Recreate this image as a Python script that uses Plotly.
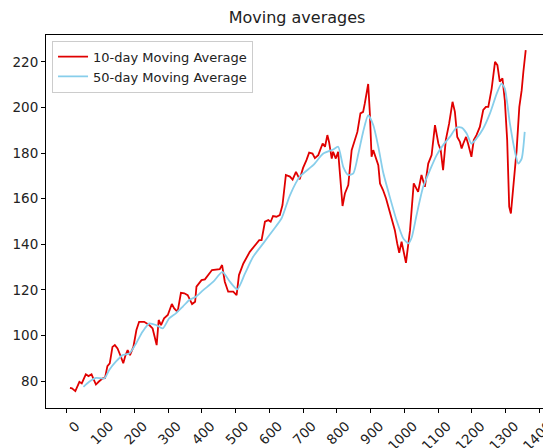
import plotly.graph_objects as go

# 10-day moving average
ma10_x = [9, 15, 25, 37, 44, 56, 64, 73, 78, 86, 94, 106, 113, 120, 127, 135, 142, 150,
          160, 167, 173, 180, 187, 197, 206, 214, 229, 244, 254, 262, 266, 272, 279, 288,
          299, 311, 318, 328, 338, 348, 358, 371, 380, 384, 399, 409, 419, 430, 453, 460,
          468, 478, 493, 503, 510, 523, 542, 557, 570, 577, 587, 597, 604, 611, 621, 631,
          639, 649, 661, 669, 679, 690, 700, 710, 718, 728, 735, 745, 758, 765, 772, 777,
          785, 789, 797, 804, 811, 817, 824, 834, 844, 854, 861, 870, 878, 883, 893, 898,
          903, 908, 916, 923, 928, 937, 946, 955, 965, 972, 979, 985, 992, 999, 1005, 1017,
          1028, 1041, 1051, 1061, 1071, 1081, 1091, 1101, 1108, 1115, 1123, 1133, 1143, 1150,
          1157, 1165, 1170, 1175, 1183, 1189, 1199, 1206, 1214, 1224, 1234, 1242, 1249, 1259,
          1269, 1276, 1283, 1291, 1298, 1305, 1311, 1316, 1323, 1333, 1341, 1348, 1353, 1360]
ma10_y = [77.0, 76.8, 75.6, 79.7, 79.0, 83.0, 82.2, 83.0, 81.2, 78.5, 79.7, 81.2, 81.4, 86.6,
          87.8, 95.0, 95.8, 94.3, 90.7, 87.8, 91.0, 93.6, 91.4, 95.0, 102.4, 106.0, 106.0,
          104.6, 103.1, 97.2, 95.8, 106.8, 104.6, 107.5, 109.0, 113.8, 111.9, 110.4, 118.7,
          118.5, 117.7, 113.8, 114.8, 121.4, 124.3, 124.6, 126.5, 128.7, 129.1, 130.9, 123.6,
          119.2, 119.2, 117.7, 126.5, 131.6, 136.7, 139.6, 141.8, 141.8, 149.9, 150.6, 149.9,
          152.4, 152.1, 152.8, 157.2, 170.4, 169.7, 168.4, 171.8, 168.5, 173.5, 176.9, 180.2,
          179.8, 177.8, 179.1, 184.2, 182.8, 187.9, 184.9, 177.6, 180.6, 177.6, 180.6, 168.2,
          156.8, 162.3, 166.0, 181.3, 185.7, 189.3, 197.4, 198.1, 201.8, 210.3, 197.4, 178.4,
          181.3, 177.6, 174.7, 166.7, 163.8, 160.1, 155.0, 150.6, 146.2, 140.4, 136.3, 141.1,
          136.3, 131.9, 146.2, 166.7, 163.0, 170.4, 165.2, 175.4, 179.1, 192.3, 184.2, 181.3,
          172.5, 185.7, 193.0, 202.5, 198.1, 187.1, 184.9, 182.0, 184.2, 187.1, 184.2, 178.4,
          185.7, 187.9, 191.5, 198.9, 200.3, 200.3, 208.3, 220.0, 218.6, 211.3, 212.8, 203.1,
          185.7, 156.5, 153.5, 165.2, 181.3, 200.3, 207.6, 215.7, 225.2]

# 50-day moving average
ma50_x = [49, 66, 86, 111, 125, 145, 165, 185, 205, 224, 244, 264, 284, 303, 323, 343, 362,
          382, 404, 434, 461, 483, 505, 528, 552, 582, 611, 636, 661, 690, 730, 760, 789, 804,
          819, 834, 849, 864, 878, 893, 908, 923, 937, 957, 977, 997, 1012, 1022, 1036, 1056,
          1076, 1096, 1115, 1135, 1155, 1170, 1185, 1199, 1214, 1234, 1254, 1274, 1288, 1298,
          1313, 1328, 1338, 1348, 1357]
ma50_y = [77.5, 79.7, 81.4, 81.2, 84.8, 88.5, 91.4, 92.1, 96.5, 101.6, 105.3, 104.6, 103.1,
          107.5, 109.7, 112.6, 115.5, 117.0, 119.9, 123.6, 127.9, 123.6, 120.2, 127.2, 134.5,
          140.4, 146.2, 151.3, 161.5, 169.6, 174.7, 179.8, 181.6, 182.8, 174.0, 170.4, 171.1,
          179.8, 189.3, 196.6, 192.3, 182.8, 171.8, 160.8, 150.6, 142.6, 140.4, 143.0, 152.5,
          165.2, 172.5, 179.1, 183.5, 187.1, 191.2, 191.2, 188.6, 184.2, 186.4, 190.8, 197.4,
          206.1, 210.5, 208.3, 193.0, 180.6, 175.4, 177.6, 189.3]

x_ticks = [0, 100, 200, 300, 400, 500, 600, 700, 800, 900, 1000, 1100, 1200, 1300, 1400]
y_ticks = [80, 100, 120, 140, 160, 180, 200, 220]

fig = go.Figure()
fig.add_trace(go.Scatter(x=ma10_x, y=ma10_y, mode="lines", name="10-day Moving Average",
                         line=dict(color="#e00000", width=1.8)))
fig.add_trace(go.Scatter(x=ma50_x, y=ma50_y, mode="lines", name="50-day Moving Average",
                         line=dict(color="#87ceeb", width=1.8, shape="spline", smoothing=0.6)))

axis_style = dict(showgrid=False, zeroline=False, showline=True, mirror=True,
                  linecolor="black", linewidth=1, ticks="outside", ticklen=4,
                  tickcolor="black", tickfont=dict(size=13.5, color="#222222"),
                  automargin=False, ticklabeloverflow="allow")

# the page body adds 8px, so the figure is 8px smaller than the window
fig.update_layout(
    width=543, height=440,
    margin=dict(l=38, r=3, t=27, b=40),
    paper_bgcolor="white", plot_bgcolor="white",
    font=dict(family="DejaVu Sans", color="#222222"),
    title=dict(text="Moving averages", x=0.5, xref="paper", y=1 - 9 / 440,
               yanchor="middle", font=dict(size=16, color="#222222")),
    legend=dict(x=0.012, y=0.985, xanchor="left", yanchor="top",
                bgcolor="rgba(255,255,255,0.8)", bordercolor="#cccccc", borderwidth=1,
                font=dict(size=13, color="#222222"), tracegroupgap=0, itemwidth=30),
    showlegend=True,
)
fig.update_xaxes(range=[-62, 1426], tickvals=x_ticks, tickangle=-45, ticklabelshift=9,
                 **axis_style)
fig.update_yaxes(range=[68.2, 231.8], tickvals=y_ticks, **axis_style)

fig.write_html("out.html")
